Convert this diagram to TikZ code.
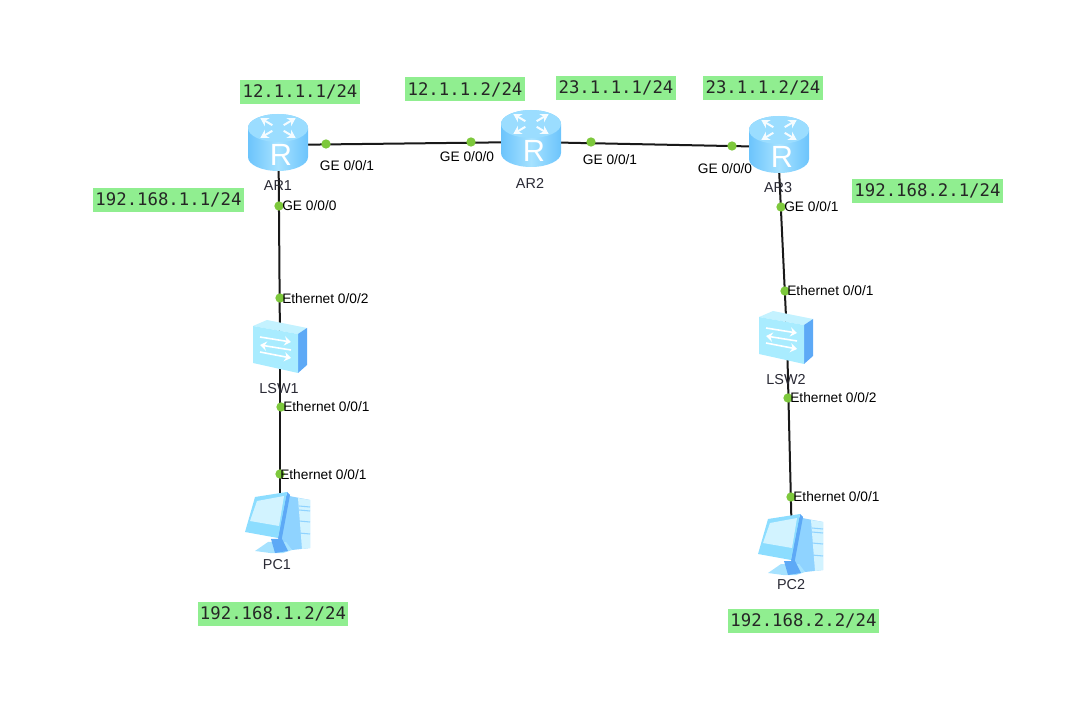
\documentclass[tikz,border=0pt]{standalone}
\usepackage{fontspec}
\setmainfont{Liberation Sans}
\newfontfamily\ipfont{DejaVu Sans Mono}
\usetikzlibrary{arrows.meta}
\definecolor{ipgreen}{HTML}{90EE90}
\definecolor{portgreen}{HTML}{7DC83C}
\definecolor{textgray}{HTML}{2A2A35}
\definecolor{skyside}{HTML}{6CC4FC}
\definecolor{skymid}{HTML}{A6E2FF}
\definecolor{skytop}{HTML}{9BDDFF}
\definecolor{paleface}{HTML}{A9ECFF}
\definecolor{paletop}{HTML}{C4F2FF}
\definecolor{deepside}{HTML}{5DA9F6}
\definecolor{screenpale}{HTML}{D2F3FF}
\definecolor{towermid}{HTML}{8FD3FF}
\definecolor{bezel}{HTML}{8CDDFF}

\tikzset{
  routericon/.pic={
    \path[left color=skyside, right color=skyside, middle color=skymid]
      (-30,-13) -- (-30,16) arc[start angle=180, end angle=0, x radius=30, y radius=14]
      -- (30,-13) arc[start angle=0, end angle=-180, x radius=30, y radius=14] -- cycle;
    \path[fill=skytop] (0,-13) ellipse[x radius=30, y radius=14];
    \foreach \a in {45,135,225,315}{
      \draw[white!90!skytop, line width=1.5pt, -{Stealth[length=6pt,width=7pt]}]
        ({8*cos(\a)},{-13+4*sin(\a)}) -- ({25*cos(\a)},{-13+14*sin(\a)});
    }
    \node[white, font=\fontsize{23}{23}\selectfont, inner sep=0pt] at (3,14) {R};
  },
  switchicon/.pic={
    \path[fill=paletop] (-27,-21) -- (-13,-27) -- (27,-19) -- (18,-13) -- cycle;
    \path[fill=deepside] (18,-13) -- (27,-19) -- (27,18) -- (18,26) -- cycle;
    \path[fill=paleface] (-27,-21) -- (18,-13) -- (18,26) -- (-27,16) -- cycle;
    \draw[white, line width=1.2pt, -{Stealth[length=5pt,width=7pt]}] (-20,-10) -- (11,-5);
    \draw[white, line width=1.2pt, -{Stealth[length=5pt,width=7pt]}] (11,3) -- (-20,-2);
    \draw[white, line width=1.2pt, -{Stealth[length=5pt,width=7pt]}] (-20,5) -- (11,11);
  },
  pcicon/.pic={
    \path[fill=towermid] (6,-28) -- (32,-23) -- (32,25) -- (14,27) -- (0,15) -- cycle;
    \path[fill=screenpale] (20,-25) -- (32,-23) -- (32,25) -- (24,26) -- cycle;
    \foreach \ty in {-17,-13,-2,10}{
      \draw[towermid, line width=0.8pt] (21,\ty) -- (32,{\ty+1});
    }
    \path[fill=skymid] (-23,28) -- (-10,19) -- (8,19) -- (14,27) -- (5,30) -- (-8,30) -- cycle;
    \path[fill=deepside] (-7,16) -- (4,16) -- (10,28) -- (-3,30) -- cycle;
    \path[fill=deepside] (9,-31) -- (12,-28) -- (3,20) -- (0,15) -- cycle;
    \path[fill=bezel] (-23,-26) -- (9,-31) -- (0,15) -- (-33,9) -- cycle;
    \path[fill=screenpale] (-21,-22) -- (6,-27) -- (1,3) -- (-28,-2) -- cycle;
  },
  link/.style={line width=1.5pt, black!90},
  devnode/.style={inner sep=0pt, minimum size=1pt},
  port/.style={circle, fill=portgreen, inner sep=0pt, minimum size=7pt},
  portlbl/.style={text=black, inner sep=0pt, font=\fontsize{10.3}{12}\selectfont},
  devlbl/.style={text=textgray, inner sep=0pt, font=\fontsize{10.8}{12}\selectfont},
  ipbox/.style={fill=ipgreen, inner sep=0pt, text=black!85, minimum height=18pt, minimum width=90pt, font=\ipfont\fontsize{13}{14}\selectfont},
  ipboxw/.style={ipbox, minimum width=113pt}
}

\begin{document}
\begin{tikzpicture}[x=0.75pt, y=-0.75pt]
\useasboundingbox (0,0) rectangle (1078,712);

% devices
\node[devnode] (ar1) at (278.5,145) {};
\node[devnode] (ar2) at (531,142) {};
\node[devnode] (ar3) at (778,147) {};
\node[devnode] (lsw1) at (280,347) {};
\node[devnode] (lsw2) at (787,338) {};
\node[devnode] (pc1) at (280,523) {};
\node[devnode] (pc2) at (792,545) {};

% links
\draw[link] (ar1) -- (ar2);
\draw[link] (ar2) -- (ar3);
\draw[link] (ar1) -- (lsw1);
\draw[link] (lsw1) -- (pc1);
\draw[link] (ar3) -- (lsw2);
\draw[link] (lsw2) -- (pc2);

% icons
\pic at (278,141) {routericon};
\pic at (531,137) {routericon};
\pic at (779,143) {routericon};
\pic at (280,347) {switchicon};
\pic at (786,338) {switchicon};
\pic at (278,523) {pcicon};
\pic at (791,545) {pcicon};

% ports
\foreach \nm/\px/\py in {a/326/144, b/471/142, c/591/142, d/732/146, e/279/206, f/280/298,
    g/281/407, h/280/474, i/781/207, j/785/291, k/788/398, l/791/497}{
  \node[port] (p\nm) at (\px,\py) {};
}

% port labels
\node[portlbl] (la) at (347,166) {GE 0/0/1};
\node[portlbl] (lb) at (467,157) {GE 0/0/0};
\node[portlbl] (lc) at (610,160) {GE 0/0/1};
\node[portlbl] (ld) at (725,169) {GE 0/0/0};
\node[portlbl, anchor=west] (le) at (282,206) {GE 0/0/0};
\node[portlbl, anchor=west] (lf) at (282,299) {Ethernet 0/0/2};
\node[portlbl, anchor=west] (lg) at (283,407) {Ethernet 0/0/1};
\node[portlbl, anchor=west] (lh) at (280,475) {Ethernet 0/0/1};
\node[portlbl, anchor=west] (li) at (784,207) {GE 0/0/1};
\node[portlbl, anchor=west] (lj) at (787,291) {Ethernet 0/0/1};
\node[portlbl, anchor=west] (lk) at (790,398) {Ethernet 0/0/2};
\node[portlbl, anchor=west] (ll) at (793,497) {Ethernet 0/0/1};

% device labels
\node[devlbl] (nar1) at (278,186) {AR1};
\node[devlbl] (nar2) at (530,183) {AR2};
\node[devlbl] (nar3) at (778,188) {AR3};
\node[devlbl] (nlsw1) at (279,389) {LSW1};
\node[devlbl] (nlsw2) at (786,380) {LSW2};
\node[devlbl] (npc1) at (277,565) {PC1};
\node[devlbl] (npc2) at (791,585) {PC2};

% addresses
\node[ipbox] (ip1) at (300,92) {12.1.1.1/24};
\node[ipbox] (ip2) at (465,89.5) {12.1.1.2/24};
\node[ipbox] (ip3) at (616,88) {23.1.1.1/24};
\node[ipbox] (ip4) at (763,88) {23.1.1.2/24};
\node[ipboxw] (ip5) at (168.5,200) {192.168.1.1/24};
\node[ipboxw] (ip6) at (927.5,191) {192.168.2.1/24};
\node[ipboxw] (ip7) at (273,613.5) {192.168.1.2/24};
\node[ipboxw] (ip8) at (803.5,621) {192.168.2.2/24};
\end{tikzpicture}
\end{document}
